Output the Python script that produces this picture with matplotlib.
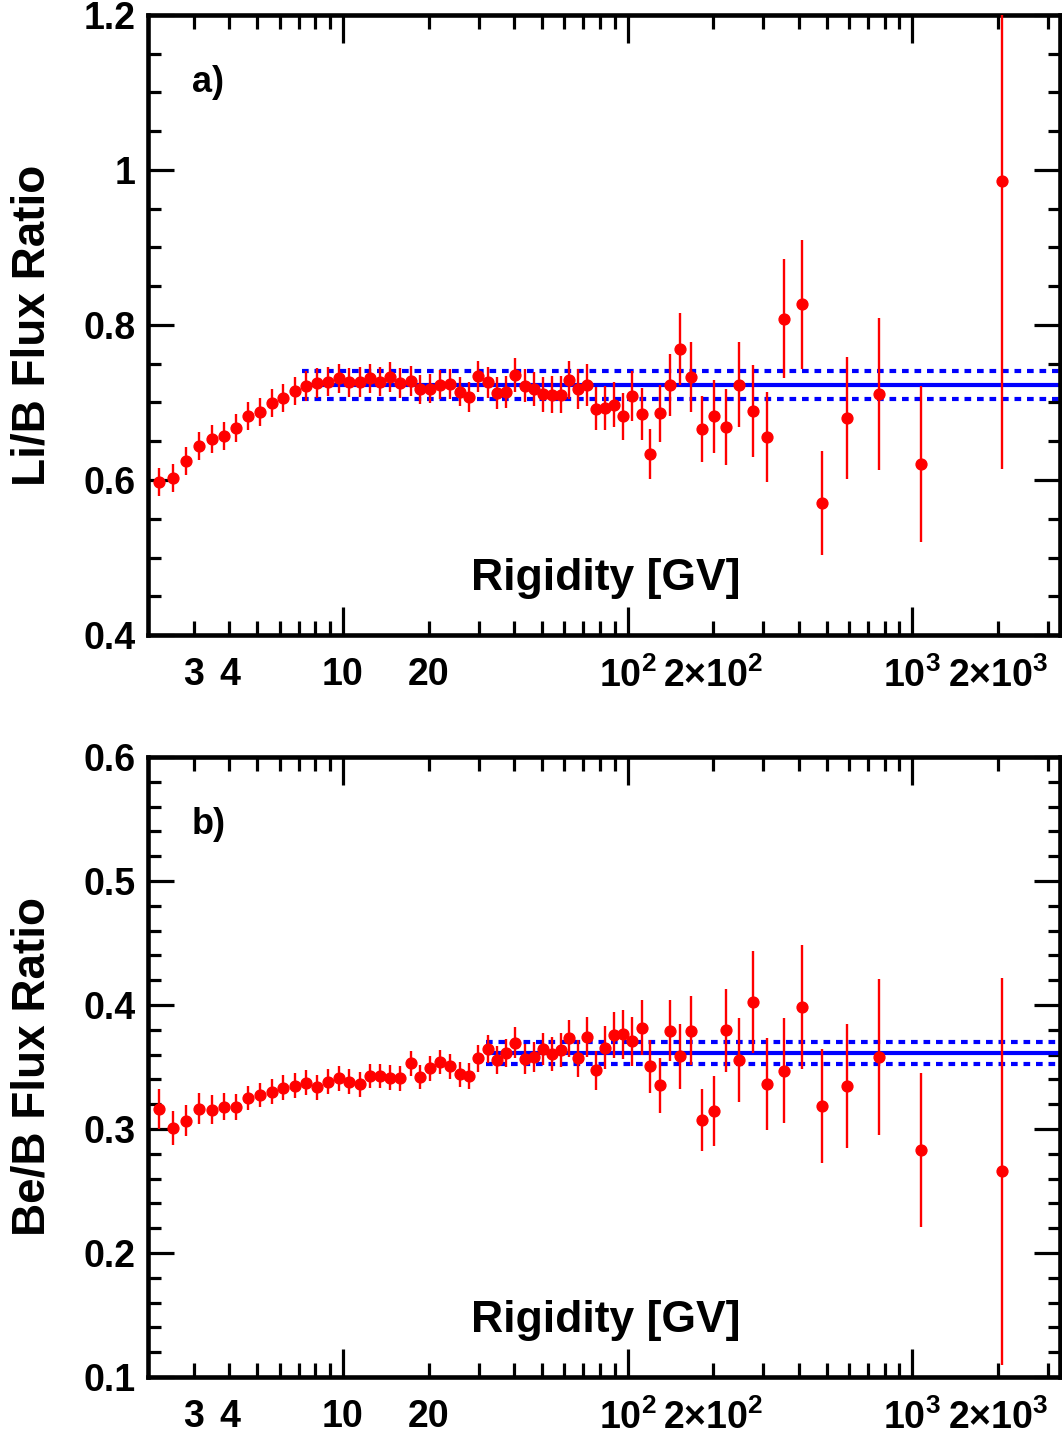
import matplotlib
matplotlib.use("Agg")
import matplotlib.pyplot as plt
from matplotlib.ticker import FixedLocator, FixedFormatter, NullFormatter

plt.rcParams['font.family'] = ['Liberation Sans', 'DejaVu Sans']
plt.rcParams['font.weight'] = 'bold'
plt.rcParams['mathtext.fontset'] = 'custom'
plt.rcParams['mathtext.rm'] = 'Liberation Sans:bold'
plt.rcParams['mathtext.bf'] = 'Liberation Sans:bold'
plt.rcParams['mathtext.it'] = 'Liberation Sans:bold'

# ---------------- data ----------------
rigidity = [2.27, 2.53, 2.81, 3.13, 3.46, 3.83, 4.22, 4.65, 5.12, 5.63, 6.18, 6.77,
            7.42, 8.11, 8.86, 9.67, 10.5, 11.5, 12.5, 13.5, 14.7, 15.9, 17.3, 18.7,
            20.3, 21.9, 23.7, 25.7, 27.7, 29.9, 32.3, 34.8, 37.5, 40.4, 43.5, 46.8,
            50.3, 54.1, 58.2, 62.5, 67.2, 72.3, 77.7, 83.5, 89.7, 96.4, 104, 112,
            120, 130, 141, 153, 167, 183, 201, 222, 246, 275, 310, 354, 409, 481,
            589, 762, 1070, 2071]

li_b = [0.597, 0.603, 0.624, 0.644, 0.6525, 0.657, 0.667, 0.683, 0.688, 0.699, 0.706, 0.715,
        0.721, 0.725, 0.727, 0.731, 0.726, 0.7265, 0.731, 0.727, 0.733, 0.725, 0.728, 0.717,
        0.718, 0.723, 0.724, 0.714, 0.707, 0.734, 0.726, 0.712, 0.7135, 0.7355, 0.7215, 0.717,
        0.7105, 0.710, 0.710, 0.729, 0.717, 0.723, 0.692, 0.693, 0.697, 0.682, 0.708, 0.685,
        0.6335, 0.686, 0.723, 0.769, 0.733, 0.666, 0.682, 0.668, 0.723, 0.689, 0.6555, 0.808,
        0.8265, 0.570, 0.680, 0.711, 0.6205, 0.986]
li_b_err = [0.018, 0.018, 0.018, 0.018, 0.018, 0.018, 0.018, 0.018, 0.018, 0.018, 0.018, 0.018,
            0.019, 0.019, 0.019, 0.019, 0.019, 0.019, 0.019, 0.019, 0.019, 0.019, 0.019, 0.019,
            0.019, 0.019, 0.019, 0.019, 0.019, 0.020, 0.020, 0.021, 0.021, 0.022, 0.0215, 0.022,
            0.023, 0.024, 0.024, 0.025, 0.026, 0.027, 0.0275, 0.028, 0.029, 0.0305, 0.032, 0.034,
            0.032, 0.037, 0.040, 0.046, 0.045, 0.043, 0.047, 0.049, 0.055, 0.059, 0.058, 0.077,
            0.083, 0.067, 0.079, 0.098, 0.101, 0.372]

be_b = [0.316, 0.3005, 0.3067, 0.3164, 0.3156, 0.318, 0.318, 0.325, 0.3274, 0.330, 0.3333, 0.335,
        0.3373, 0.3336, 0.338, 0.341, 0.338, 0.336, 0.3427, 0.3427, 0.3414, 0.341, 0.353, 0.342,
        0.349, 0.354, 0.3506, 0.344, 0.3427, 0.357, 0.3645, 0.3553, 0.3613, 0.3696, 0.3565, 0.358,
        0.3645, 0.3605, 0.3637, 0.373, 0.357, 0.3744, 0.3473, 0.3656, 0.3758, 0.3763, 0.3707, 0.3816,
        0.3505, 0.3353, 0.3793, 0.3585, 0.3793, 0.3074, 0.3145, 0.3796, 0.3556, 0.4025, 0.3363, 0.347,
        0.398, 0.3185, 0.335, 0.3578, 0.2833, 0.266]
be_b_err = [0.016, 0.0137, 0.0126, 0.0124, 0.0116, 0.0108, 0.0105, 0.010, 0.010, 0.010, 0.010, 0.010,
            0.010, 0.010, 0.010, 0.010, 0.010, 0.010, 0.010, 0.010, 0.010, 0.010, 0.010, 0.010,
            0.010, 0.010, 0.010, 0.010, 0.0105, 0.0108, 0.011, 0.0113, 0.0116, 0.0124, 0.012, 0.0124,
            0.013, 0.0134, 0.0137, 0.0148, 0.015, 0.016, 0.016, 0.0175, 0.0183, 0.0196, 0.020, 0.0223,
            0.0215, 0.022, 0.0247, 0.026, 0.028, 0.025, 0.028, 0.0336, 0.034, 0.041, 0.037, 0.0425,
            0.050, 0.046, 0.050, 0.063, 0.062, 0.156]

# constant fits
li_fit_start, li_fit_value, li_fit_err = 7.2, 0.722, 0.018
be_fit_start, be_fit_value, be_fit_err = 31.8, 0.3615, 0.009

x_range = (2.07, 3300)
major_x = [10, 100, 1000]
major_x_labels = ['10', r'$\mathbf{10^{2}}$', r'$\mathbf{10^{3}}$']
minor_x = [3, 4, 5, 6, 7, 8, 9, 20, 30, 40, 50, 60, 70, 80, 90,
           200, 300, 400, 500, 600, 700, 800, 900, 2000, 3000]
minor_x_labels = ['3', '4', '', '', '', '', '', '20', '', '', '', '', '', '', '',
                  r'$\mathbf{2{\times}10^{2}}$', '', '', '', '', '', '', '',
                  r'$\mathbf{2{\times}10^{3}}$', '']

panels = [
    dict(vals=li_b, errs=li_b_err, fit=(li_fit_start, li_fit_value, li_fit_err),
         ylim=(0.4, 1.2), major_y=[0.4, 0.6, 0.8, 1.0, 1.2],
         major_y_labels=['0.4', '0.6', '0.8', '1', '1.2'],
         minor_step=0.05, ylabel='Li/B Flux Ratio', tag='a)'),
    dict(vals=be_b, errs=be_b_err, fit=(be_fit_start, be_fit_value, be_fit_err),
         ylim=(0.1, 0.6), major_y=[0.1, 0.2, 0.3, 0.4, 0.5, 0.6],
         major_y_labels=['0.1', '0.2', '0.3', '0.4', '0.5', '0.6'],
         minor_step=0.02, ylabel='Be/B Flux Ratio', tag='b)'),
]

W, H = 1062, 1435
fig = plt.figure(figsize=(W / 100, H / 100), dpi=100)
axes_px = [(148, 15, 912, 620), (148, 757, 912, 620)]

for p, (lx, ty, wpx, hpx) in zip(panels, axes_px):
    ax = fig.add_axes([lx / W, 1 - (ty + hpx) / H, wpx / W, hpx / H])
    ax.set_xscale('log')
    ax.set_xlim(*x_range)
    ax.set_ylim(*p['ylim'])

    fs, fv, fe = p['fit']
    ax.plot([fs, x_range[1]], [fv, fv], color='#0000ff', lw=3.0, zorder=2,
            solid_capstyle='butt')
    for off in (-fe, fe):
        ax.plot([fs, x_range[1]], [fv + off, fv + off], color='#0000ff', lw=3.0,
                dashes=(1.6, 1.4), zorder=2, dash_capstyle='butt')

    ax.errorbar(rigidity, p['vals'], yerr=p['errs'], fmt='o', color='#ff0000',
                ms=7.8, elinewidth=1.7, capsize=0, zorder=3, mec='#ff0000')

    # x ticks
    ax.xaxis.set_major_locator(FixedLocator(major_x))
    ax.xaxis.set_major_formatter(FixedFormatter(major_x_labels))
    ax.xaxis.set_minor_locator(FixedLocator(minor_x))
    ax.xaxis.set_minor_formatter(FixedFormatter(minor_x_labels))
    ax.tick_params(axis='x', which='major', length=20, width=2.3, direction='in',
                   top=True, bottom=True, labelsize=27, pad=16)
    ax.tick_params(axis='x', which='minor', length=10, width=2.3, direction='in',
                   top=True, bottom=True, labelsize=27, pad=16)

    # y ticks
    lo, hi = p['ylim']
    step = p['minor_step']
    n = int(round((hi - lo) / step))
    minor_y = [lo + i * step for i in range(n + 1)]
    ax.yaxis.set_major_locator(FixedLocator(p['major_y']))
    ax.yaxis.set_major_formatter(FixedFormatter(p['major_y_labels']))
    ax.yaxis.set_minor_locator(FixedLocator(minor_y))
    ax.yaxis.set_minor_formatter(NullFormatter())
    ax.tick_params(axis='y', which='major', length=19, width=2.3, direction='in',
                   left=True, right=True, labelsize=27, pad=9)
    ax.tick_params(axis='y', which='minor', length=9, width=2.3, direction='in',
                   left=True, right=True)

    for sp in ax.spines.values():
        sp.set_linewidth(3.3)

    ax.set_ylabel(p['ylabel'], fontsize=33, fontweight='bold')
    ax.yaxis.set_label_coords(-0.103, 0.5)

    ax.text(0.502, 0.072, 'Rigidity [GV]', transform=ax.transAxes, ha='center',
            va='baseline', fontsize=32, fontweight='bold')
    ax.text(0.048, 0.876, p['tag'], transform=ax.transAxes, ha='left',
            va='baseline', fontsize=26, fontweight='bold')

fig.savefig('out.png', dpi=100)
